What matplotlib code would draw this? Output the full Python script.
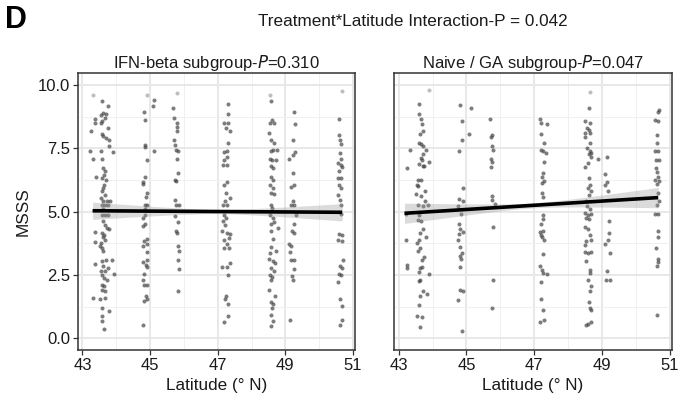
import numpy as np
import matplotlib
matplotlib.use("Agg")
import matplotlib.pyplot as plt
from matplotlib.ticker import MultipleLocator

plt.rcParams['font.family'] = ['Liberation Sans', 'DejaVu Sans']

# ---------------- data ----------------
title = "Treatment*Latitude Interaction-P = 0.042"
panel_label = "D"
left_title = "IFN-beta subgroup-$\\mathit{P}$=0.310"
right_title = "Naive / GA subgroup-$\\mathit{P}$=0.047"
x_label = "Latitude (° N)"
y_label = "MSSS"
x_ticks = [43, 45, 47, 49, 51]
y_ticks = [0.0, 2.5, 5.0, 7.5, 10.0]

left_pts = [
    # ~43.6
    (43.30, 9.60), (43.57, 9.39), (43.77, 9.17), (43.62, 8.91), (43.69, 8.87), (43.55, 8.81), (43.67, 8.70),
    (43.59, 8.58), (43.38, 8.68), (43.36, 8.51), (43.54, 8.51), (43.77, 8.29), (43.24, 8.21), (43.57, 8.08),
    (43.62, 7.98), (43.69, 7.92), (43.79, 7.85), (43.79, 7.59), (43.89, 7.36), (43.23, 7.42), (43.55, 7.42),
    (43.30, 7.10), (43.59, 7.10), (43.62, 6.73), (43.67, 6.60), (43.65, 6.47), (43.59, 6.34), (43.69, 6.27),
    (43.65, 6.07), (43.62, 5.94), (43.59, 5.81), (43.67, 5.68), (43.55, 5.55), (43.62, 5.41), (43.72, 5.44),
    (43.82, 5.44), (43.40, 6.36), (43.57, 5.28), (43.67, 5.26), (43.77, 5.26), (43.62, 5.09), (43.57, 4.89),
    (43.67, 4.89), (43.77, 4.89), (43.62, 4.62), (43.67, 4.49), (43.72, 4.36), (43.79, 4.30), (43.36, 4.19),
    (43.57, 4.16), (43.65, 4.10), (43.62, 3.99), (43.67, 3.90), (43.36, 3.81), (43.55, 3.77), (43.52, 3.64),
    (43.59, 3.57), (43.62, 3.47), (43.87, 3.11), (43.69, 3.11), (43.57, 3.04), (43.38, 2.94), (43.62, 2.85),
    (43.77, 2.78), (43.55, 2.67), (43.67, 2.65), (43.92, 2.54), (43.59, 2.52), (43.65, 2.38), (43.72, 2.32),
    (43.57, 2.12), (43.65, 2.06), (43.59, 1.92), (43.67, 1.86), (43.30, 1.59), (43.52, 1.57), (43.67, 1.59),
    (43.57, 1.20), (43.79, 1.07), (43.59, 0.87), (43.59, 0.67), (43.65, 0.38),
    # ~44.8
    (44.90, 9.60), (45.13, 9.43), (45.10, 9.17), (44.81, 8.95), (44.84, 8.64), (44.84, 7.65), (44.86, 7.56),
    (45.11, 7.42), (44.90, 7.06), (44.86, 6.39), (44.78, 6.18), (44.78, 6.10), (44.91, 5.74), (44.89, 5.59),
    (44.84, 5.26), (44.91, 5.26), (44.86, 5.09), (44.84, 4.89), (44.78, 4.76), (44.84, 4.52), (44.80, 4.43),
    (44.90, 3.94), (44.81, 3.83), (44.90, 3.74), (44.78, 3.64), (44.90, 3.41), (44.91, 3.11), (44.78, 3.00),
    (44.87, 2.91), (44.91, 2.81), (44.82, 2.56), (44.78, 2.32), (44.81, 2.09), (44.90, 2.09), (44.87, 1.66),
    (44.81, 1.49), (44.90, 1.55), (44.78, 0.51),
    # ~45.8
    (45.79, 9.71), (45.69, 9.08), (45.72, 8.71), (45.79, 8.51), (45.79, 8.34), (45.79, 8.18), (45.70, 7.85),
    (45.74, 7.65), (45.76, 7.46), (45.84, 7.39), (45.79, 7.09), (45.84, 6.53), (45.74, 6.27), (45.77, 6.21),
    (45.74, 5.48), (45.76, 5.26), (45.86, 5.26), (45.74, 4.82), (45.84, 4.60), (45.76, 4.23), (45.79, 4.16),
    (45.82, 3.64), (45.86, 3.44), (45.84, 3.11), (45.86, 2.75), (45.84, 1.86),
    # ~47.2
    (47.30, 9.24), (47.30, 8.88), (47.20, 8.51), (47.30, 8.51), (47.37, 8.18), (47.24, 8.31), (47.30, 7.71),
    (47.27, 7.42), (47.20, 7.36), (47.27, 7.15), (47.20, 7.06), (47.17, 6.84), (47.27, 6.84), (47.27, 6.18),
    (47.20, 6.07), (47.24, 5.74), (47.37, 5.55), (47.22, 5.44), (47.17, 5.26), (47.27, 5.28), (47.20, 4.89),
    (47.24, 4.76), (47.17, 4.62), (47.22, 4.49), (47.14, 4.23), (47.27, 4.16), (47.37, 4.12), (47.18, 3.90),
    (47.32, 3.97), (47.27, 3.73), (47.20, 3.57), (47.32, 3.57), (47.37, 2.98), (47.14, 2.81), (47.27, 2.81),
    (47.30, 2.49), (47.24, 1.66), (47.22, 1.57), (47.30, 1.36), (47.30, 0.87), (47.18, 0.65),
    # ~48.6
    (48.55, 9.60), (48.59, 9.39), (48.61, 8.64), (48.54, 8.51), (48.67, 8.51), (48.51, 8.12), (48.57, 7.85),
    (48.67, 7.72), (48.57, 7.42), (48.64, 7.44), (48.74, 7.46), (48.54, 7.10), (48.61, 7.06), (48.71, 7.06),
    (48.59, 6.80), (48.64, 6.71), (48.57, 6.36), (48.64, 6.27), (48.54, 6.05), (48.64, 5.94), (48.57, 5.74),
    (48.67, 5.70), (48.57, 5.28), (48.61, 5.13), (48.55, 4.89), (48.64, 4.76), (48.59, 4.52), (48.67, 4.60),
    (48.57, 4.23), (48.77, 4.36), (48.64, 3.94), (48.57, 3.60), (48.54, 3.37), (48.71, 3.44), (48.51, 3.14),
    (48.64, 3.07), (48.69, 2.98), (48.57, 2.78), (48.67, 2.67), (48.54, 2.52), (48.61, 2.41), (48.57, 2.32),
    (48.51, 1.90), (48.69, 1.66), (48.57, 1.44), (48.64, 1.36), (48.61, 1.20), (48.57, 0.91), (48.64, 0.70),
    (48.57, 0.47),
    # ~49.2
    (49.26, 8.93), (49.30, 8.48), (49.23, 7.85), (49.30, 7.36), (49.23, 7.23), (49.11, 7.09), (49.23, 6.53),
    (49.26, 6.07), (49.16, 5.97), (49.23, 5.44), (49.18, 5.26), (49.26, 5.28), (49.33, 4.89), (49.26, 4.52),
    (49.20, 4.26), (49.26, 4.16), (49.11, 3.74), (49.16, 3.66), (49.14, 3.41), (49.18, 3.11), (49.26, 3.11),
    (49.26, 2.75), (49.20, 2.48), (49.23, 2.32), (49.14, 0.74),
    # ~50.6
    (50.68, 9.76), (50.58, 8.68), (50.58, 8.05), (50.61, 7.85), (50.66, 7.68), (50.61, 7.33), (50.66, 7.10),
    (50.57, 6.93), (50.64, 6.84), (50.68, 6.76), (50.58, 6.60), (50.64, 6.34), (50.55, 6.34), (50.58, 6.07),
    (50.64, 5.94), (50.57, 5.65), (50.61, 5.48), (50.66, 5.26), (50.64, 4.91), (50.58, 4.12), (50.68, 4.10),
    (50.57, 3.90), (50.68, 3.83), (50.71, 3.11), (50.61, 2.85), (50.68, 2.78), (50.58, 2.54), (50.66, 2.49),
    (50.57, 2.23), (50.61, 1.57), (50.68, 1.26), (50.68, 0.74), (50.61, 0.51),
]

right_pts = [
    # ~43.6
    (43.89, 9.83), (43.61, 9.26), (43.59, 8.87), (43.66, 8.68), (43.69, 8.47), (43.73, 8.21), (43.63, 8.08),
    (43.59, 7.72), (43.66, 7.68), (43.73, 7.59), (43.81, 7.46), (43.32, 7.46), (43.71, 7.29), (43.66, 7.13),
    (43.69, 7.06), (43.89, 6.97), (43.61, 6.89), (43.71, 6.80), (43.76, 6.80), (43.24, 6.73), (43.56, 6.27),
    (43.66, 6.27), (43.53, 6.07), (43.56, 6.01), (43.79, 5.81), (43.51, 5.70), (43.66, 5.61), (43.79, 5.44),
    (43.56, 5.26), (43.86, 5.26), (43.71, 5.22), (43.61, 4.89), (43.20, 4.91), (43.56, 4.69), (43.66, 4.65),
    (43.73, 4.30), (43.63, 4.16), (43.81, 3.99), (43.59, 3.90), (43.22, 3.90), (43.53, 3.77), (43.63, 3.57),
    (43.56, 3.44), (43.69, 3.11), (43.76, 3.20), (43.24, 2.91), (43.24, 2.78), (43.63, 2.78), (43.59, 2.62),
    (43.89, 2.54), (43.69, 2.81), (43.63, 2.32), (43.59, 2.28), (43.71, 1.88), (43.83, 1.75), (43.63, 1.66),
    (43.61, 1.33), (43.53, 0.87), (43.69, 0.83), (43.63, 0.43),
    # ~44.8
    (44.80, 9.21), (45.14, 9.08), (44.87, 8.60), (45.08, 8.08), (44.87, 7.85), (44.77, 7.39), (44.90, 5.94),
    (44.77, 5.52), (44.90, 5.44), (44.75, 5.22), (44.85, 4.91), (44.77, 4.52), (44.80, 4.33), (44.90, 4.20),
    (44.77, 4.12), (44.75, 3.90), (44.80, 3.62), (44.87, 3.37), (44.80, 3.24), (44.85, 3.15), (44.80, 2.81),
    (44.80, 1.90), (44.90, 1.86), (44.75, 1.53), (44.87, 0.28),
    # ~45.7
    (45.69, 8.68), (45.74, 8.05), (45.72, 7.94), (45.74, 7.59), (45.79, 7.46), (45.72, 7.09), (45.76, 6.97),
    (45.72, 6.76), (45.74, 5.61), (45.76, 5.48), (45.84, 5.31), (45.79, 4.39), (45.79, 2.29), (45.76, 1.20),
    # ~47.2
    (47.17, 8.68), (47.37, 8.48), (47.20, 8.51), (47.20, 8.08), (47.30, 7.72), (47.20, 7.46), (47.27, 7.42),
    (47.34, 7.33), (47.30, 6.97), (47.27, 6.53), (47.22, 6.36), (47.30, 6.21), (47.24, 6.14), (47.24, 5.74),
    (47.27, 5.57), (47.27, 4.86), (47.27, 4.73), (47.20, 4.52), (47.17, 4.20), (47.27, 4.23), (47.20, 4.10),
    (47.24, 3.99), (47.30, 3.90), (47.27, 3.35), (47.17, 2.85), (47.22, 2.71), (47.27, 2.58), (47.37, 2.54),
    (47.20, 2.23), (47.20, 1.57), (47.27, 1.13), (47.30, 0.71), (47.17, 0.65),
    # ~48.6
    (48.64, 9.74), (48.61, 9.08), (48.49, 8.58), (48.64, 8.51), (48.57, 8.31), (48.61, 8.25), (48.51, 8.12),
    (48.64, 8.12), (48.49, 7.94), (48.64, 7.72), (48.57, 7.50), (48.64, 7.42), (48.69, 7.33), (48.61, 7.29),
    (48.67, 7.15), (48.89, 7.10), (48.51, 6.76), (48.59, 6.93), (48.61, 6.34), (48.64, 6.05), (48.59, 5.92),
    (48.69, 5.81), (48.61, 5.65), (48.54, 5.41), (48.57, 5.22), (48.64, 5.09), (48.51, 4.95), (48.59, 4.89),
    (48.67, 4.91), (48.54, 4.76), (48.61, 4.73), (48.51, 4.39), (48.59, 4.33), (48.64, 4.10), (48.67, 3.90),
    (48.54, 3.86), (48.51, 3.70), (48.49, 3.41), (48.59, 3.37), (48.69, 3.41), (48.54, 3.07), (48.64, 2.71),
    (48.64, 2.58), (48.59, 2.31), (48.67, 2.06), (48.64, 1.86), (48.61, 1.44), (48.64, 1.20), (48.69, 1.11),
    (48.67, 0.65), (48.54, 0.51), (48.59, 0.58),
    # ~49.2
    (49.16, 7.15), (49.10, 6.50), (49.16, 6.18), (49.10, 6.07), (49.18, 5.81), (49.20, 4.65), (49.20, 4.16),
    (49.18, 3.90), (49.10, 3.73), (49.23, 3.37), (49.16, 2.67), (49.13, 2.32), (49.23, 2.32),
    # ~50.6
    (50.68, 9.04), (50.65, 8.95), (50.57, 8.64), (50.65, 8.60), (50.62, 8.05), (50.62, 7.72), (50.57, 7.42),
    (50.67, 7.42), (50.59, 7.06), (50.68, 7.06), (50.59, 6.73), (50.62, 6.57), (50.65, 6.36), (50.57, 6.27),
    (50.68, 6.21), (50.62, 6.10), (50.65, 5.74), (50.68, 5.44), (50.62, 5.26), (50.67, 4.91), (50.57, 4.91),
    (50.65, 4.26), (50.67, 3.99), (50.59, 3.57), (50.67, 3.15), (50.65, 3.02), (50.62, 2.85), (50.62, 0.91),
]

# fitted line (lm) endpoints and 95% CI half-widths
left_fit_x = [43.30, 50.68]
left_fit_y = [5.04, 4.98]
left_ci_half = [0.34, 0.08, 0.34]
right_fit_x = [43.17, 50.66]
right_fit_y = [4.94, 5.56]
right_ci_half = [0.40, 0.10, 0.40]

# ---------------- drawing ----------------
W, H = 681, 408
fig = plt.figure(figsize=(W / 100, H / 100), dpi=100)

axL = fig.add_axes([77.7 / W, 1 - 350 / H, 277.3 / W, 276.7 / H])
axR = fig.add_axes([394 / W, 1 - 350 / H, 277.7 / W, 276.7 / H])


def draw_panel(ax, pts, fx, fy, ci, ttl, show_y):
    arr = np.array(pts)
    lat, val = arr[:, 0], arr[:, 1]
    light = val >= 9.55
    ax.scatter(lat[~light], val[~light], s=8.5, color='#404040', alpha=0.68,
               linewidths=0, zorder=3)
    ax.scatter(lat[light], val[light], s=8.5, color='#a0a0a0', alpha=0.68,
               linewidths=0, zorder=3)
    xs = np.linspace(fx[0], fx[1], 100)
    ys = np.interp(xs, fx, fy)
    xm = 0.5 * (fx[0] + fx[1])
    half_span = 0.5 * (fx[1] - fx[0])
    t = (xs - xm) / half_span
    hw = np.sqrt(ci[1] ** 2 + (ci[0] ** 2 - ci[1] ** 2) * t ** 2)
    ax.fill_between(xs, ys - hw, ys + hw, color='#999999', alpha=0.35,
                    linewidth=0, zorder=4)
    ax.plot(fx, fy, color='black', lw=2.6, solid_capstyle='butt', zorder=5)

    ax.set_xlim(42.86, 51.06)
    ax.set_ylim(-0.46, 10.47)
    ax.set_xticks(x_ticks)
    ax.set_yticks(y_ticks)
    ax.xaxis.set_minor_locator(MultipleLocator(1))
    ax.yaxis.set_minor_locator(MultipleLocator(1.25))
    ax.grid(True, which='major', color='#E6E6E6', lw=1.3, zorder=0)
    ax.grid(True, which='minor', color='#F0F0F0', lw=0.7, zorder=0)
    ax.set_axisbelow(True)
    ax.tick_params(which='minor', length=0)
    ax.tick_params(which='major', length=3.5, width=0.9, color='#333333',
                   labelsize=12, labelcolor='#1a1a1a', pad=2)
    for sp in ax.spines.values():
        sp.set_color('#333333')
        sp.set_linewidth(1.1)
    ax.set_xticklabels([str(v) for v in x_ticks])
    if show_y:
        ax.set_yticklabels([f"{v:.1f}" for v in y_ticks])
        ax.set_ylabel(y_label, fontsize=12.3, labelpad=5, color='#1a1a1a')
    else:
        ax.tick_params(axis='y', which='both', left=False, labelleft=False)
    ax.set_xlabel(x_label, fontsize=12.3, labelpad=4, color='#1a1a1a')
    ax.set_title(ttl, fontsize=12, pad=4, color='#1a1a1a')


draw_panel(axL, left_pts, left_fit_x, left_fit_y, left_ci_half, left_title, True)
draw_panel(axR, right_pts, right_fit_x, right_fit_y, right_ci_half, right_title, False)

fig.text(413 / W, 1 - 21 / H, title, ha='center', va='center', fontsize=12.3,
         color='#1a1a1a')
fig.text(5 / W, 1 - 20 / H, panel_label, ha='left', va='center', fontsize=22,
         fontweight='bold', color='black')

fig.savefig("out.png", dpi=100)
